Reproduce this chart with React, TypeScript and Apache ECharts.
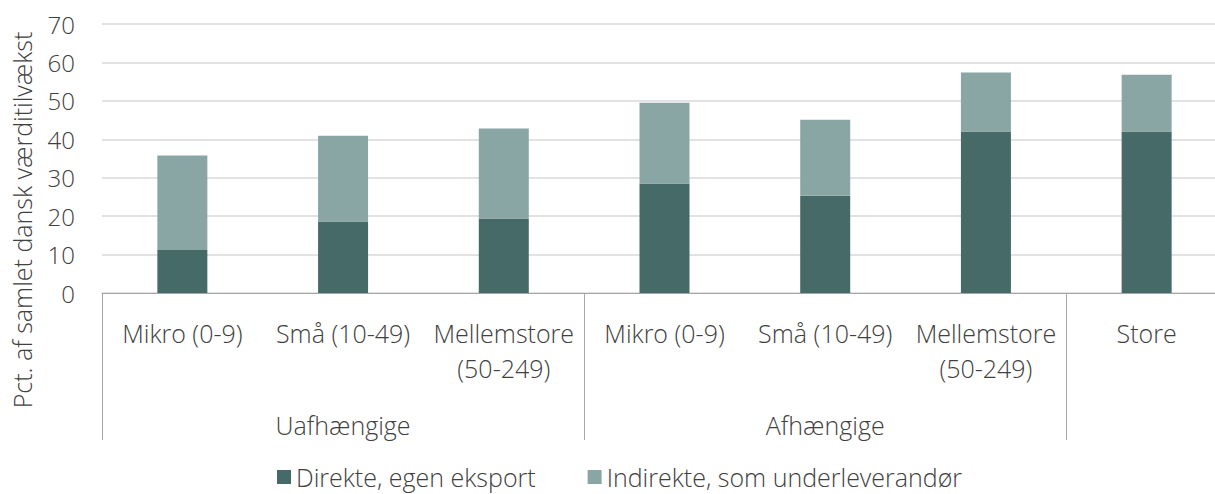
import React, { useEffect, useRef } from "react";
import * as echarts from "echarts";

const categories = [
  "Mikro (0-9)",
  "Små (10-49)",
  "Mellemstore\n(50-249)",
  "Mikro (0-9)",
  "Små (10-49)",
  "Mellemstore\n(50-249)",
  "Store",
];
const groupLabelAtCategory = ["", "Uafhængige", "", "", "Afhængige", "", ""];
const groupStartIndices = [0, 3, 6];
const direkte = [11.2, 18.6, 19.4, 28.5, 25.3, 42.0, 42.0];
const indirekte = [24.6, 22.3, 23.4, 21.0, 19.8, 15.4, 14.8];
const seriesNames = ["Direkte, egen eksport", "Indirekte, som underleverandør"];
const yAxisTitle = "Pct. af samlet dansk værditilvækst";

const FONT = "'Open Sans', 'Noto Sans', sans-serif";
const TEXT = "#404040";
const FS = 25;

export default function App() {
  const ref = useRef<HTMLDivElement>(null);
  useEffect(() => {
    if (!ref.current) return;
    const chart = echarts.init(ref.current, undefined, { renderer: "svg" });
    chart.setOption({
      animation: false,
      textStyle: { fontFamily: FONT, fontWeight: 300 },
      grid: { left: 102, right: 0, top: 24, bottom: 201, containLabel: false },
      legend: {
        top: 463,
        left: 277,
        padding: 0,
        itemWidth: 14,
        itemHeight: 14,
        itemGap: 52,
        icon: "rect",
        textStyle: { fontSize: FS, lineHeight: 28, color: TEXT, fontFamily: FONT, fontWeight: 300 },
        data: seriesNames,
      },
      graphic: [
        {
          type: "text",
          x: 22,
          y: 220,
          rotation: Math.PI / 2,
          style: {
            text: yAxisTitle,
            fontSize: FS,
            fontFamily: FONT,
            fontWeight: 300,
            fill: TEXT,
            align: "center",
            verticalAlign: "middle",
          },
        },
      ],
      xAxis: [
        {
          type: "category",
          data: categories,
          position: "bottom",
          axisLine: { show: true, lineStyle: { color: "#a6a6a6", width: 1 } },
          axisTick: {
            show: true,
            length: 147,
            interval: (index: number) => groupStartIndices.includes(index),
            lineStyle: { color: "#a6a6a6", width: 1 },
          },
          axisLabel: {
            interval: 0,
            margin: 22,
            fontSize: FS,
            lineHeight: 35,
            color: TEXT,
            fontFamily: FONT,
            fontWeight: 300,
          },
        },
        {
          type: "category",
          data: categories,
          position: "bottom",
          axisLine: { show: false },
          axisTick: { show: false },
          axisLabel: {
            interval: 0,
            margin: 114,
            fontSize: FS,
            lineHeight: 35,
            color: TEXT,
            fontFamily: FONT,
            fontWeight: 300,
            formatter: (_v: string, i: number) => groupLabelAtCategory[i],
          },
        },
      ],
      yAxis: {
        type: "value",
        min: 0,
        max: 70,
        interval: 10,
        axisLine: { show: false },
        axisTick: { show: false },
        splitLine: { lineStyle: { color: "#d9d9d9", width: 1.5 } },
        axisLabel: { fontSize: 24, color: TEXT, margin: 27, fontFamily: FONT, fontWeight: 300 },
      },
      series: [
        {
          name: seriesNames[0],
          type: "bar",
          stack: "total",
          barWidth: 50,
          data: direkte,
          itemStyle: { color: "#466a67" },
        },
        {
          name: seriesNames[1],
          type: "bar",
          stack: "total",
          barWidth: 50,
          data: indirekte,
          itemStyle: { color: "#8aa6a4" },
        },
      ],
    });
    return () => chart.dispose();
  }, []);
  return (
    <div
      style={{ position: "absolute", left: 0, top: 0, width: 1215, height: 494, overflow: "hidden" }}
    >
      <div ref={ref} style={{ width: 1227, height: 494 }} />
    </div>
  );
}
